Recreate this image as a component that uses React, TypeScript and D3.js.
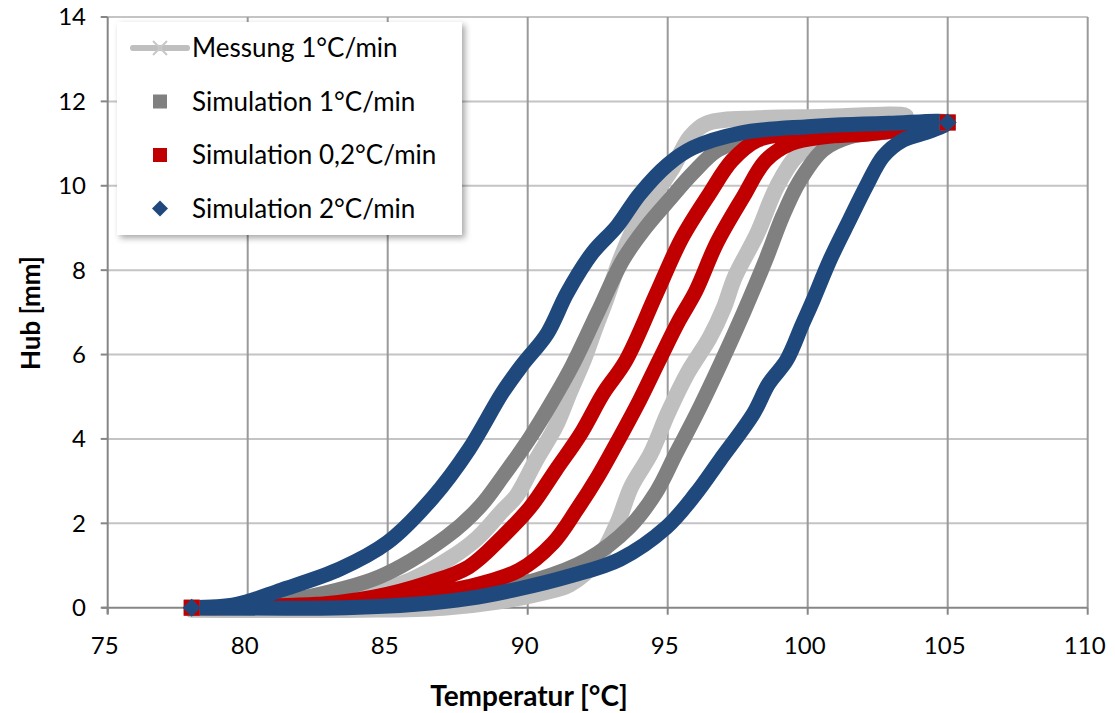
import React from "react";
import * as d3 from "d3";

type Pt = [number, number];

const xTicks = [75, 80, 85, 90, 95, 100, 105, 110];
const yTicks = [0, 2, 4, 6, 8, 10, 12, 14];

// Messung 1°C/min (measured), upper-left branch and lower-right branch
const messungUp: Pt[] = [
  [78, 0], [82, 0.05], [84, 0.3], [85.8, 0.65], [87.3, 1.2], [88.2, 1.65], [89.1, 2.3],
  [89.6, 2.65], [90.3, 3.5], [91.0, 4.3], [91.5, 5.1], [92.0, 5.87], [92.4, 6.6], [92.8, 7.3],
  [93.3, 8.24], [93.8, 9.0], [94.4, 9.66], [95.2, 10.45], [95.8, 11.16], [96.4, 11.48],
  [98.2, 11.6], [100.5, 11.63], [103.5, 11.65],
];
const messungDown: Pt[] = [
  [78, -0.05], [84, -0.05], [87, 0.0], [89, 0.15], [90.5, 0.35], [91.5, 0.55], [92.5, 1.13],
  [93.2, 2.0], [93.7, 2.87], [94.4, 3.66], [95.0, 4.6], [95.7, 5.55], [96.5, 6.4], [97.0, 7.1],
  [97.4, 7.84], [98.2, 8.87], [98.9, 9.98], [99.6, 10.7], [100.5, 11.08], [101.75, 11.24],
  [103.5, 11.3],
];

// Simulation 1°C/min
const sim1Up: Pt[] = [
  [78, 0], [80, 0.02], [81.6, 0.18], [84.7, 0.73], [87.1, 1.68], [88.3, 2.4], [89.1, 3.1],
  [90.1, 4.05], [90.9, 4.92], [91.6, 5.75], [92.5, 7.0], [93.4, 8.24], [94.2, 9.0],
  [95.1, 9.7], [95.9, 10.3], [96.8, 10.85], [98.2, 11.16], [100.55, 11.28], [105, 11.5],
];
const sim1Down: Pt[] = [
  [78, 0], [84, 0.05], [86, 0.15], [87.9, 0.34], [90.3, 0.66], [92.1, 1.13], [93.65, 1.92],
  [94.6, 2.75], [95.3, 3.66], [96.0, 4.55], [96.9, 5.8], [97.7, 6.98], [98.5, 8.24],
  [99.1, 9.27], [99.7, 10.1], [100.55, 10.85], [101.5, 11.16], [102.9, 11.28], [105, 11.5],
];

// Simulation 0,2°C/min
const sim02Up: Pt[] = [
  [78, 0], [82, 0.05], [84.5, 0.25], [86.5, 0.6], [87.9, 0.97], [89.1, 1.68], [90.1, 2.39],
  [91.0, 3.26], [91.9, 4.13], [92.7, 5.08], [93.5, 5.85], [94.6, 7.45], [95.5, 8.75],
  [96.5, 9.82], [97.3, 10.6], [98.2, 11.08], [99.4, 11.24], [101.75, 11.32], [105, 11.5],
];
const sim02Down: Pt[] = [
  [78, 0], [83, 0.1], [86, 0.3], [87.9, 0.5], [89.7, 0.89], [90.9, 1.53], [91.75, 2.32],
  [92.5, 3.1], [93.3, 4.05], [94.0, 4.92], [94.7, 5.87], [95.4, 6.8], [96.0, 7.5],
  [96.75, 8.64], [97.7, 9.74], [98.5, 10.6], [99.4, 11.0], [100.6, 11.16], [102.3, 11.24],
  [105, 11.5],
];

// Simulation 2°C/min
const sim2Up: Pt[] = [
  [78, 0], [79.6, 0.08], [81.2, 0.42], [83.3, 0.92], [85, 1.55], [86.6, 2.6], [87.9, 3.75],
  [89.1, 5.1], [89.8, 5.75], [90.7, 6.5], [91.4, 7.45], [92.3, 8.4], [93.2, 9.05],
  [94.0, 9.8], [95.0, 10.5], [95.9, 10.9], [97.6, 11.25], [100, 11.4], [102.9, 11.48],
  [105, 11.5],
];
const sim2Down: Pt[] = [
  [78, 0], [83.5, 0.0], [86, 0.08], [87.9, 0.22], [89.7, 0.45], [91.5, 0.75], [93.3, 1.15],
  [94.96, 1.91], [96.0, 2.7], [96.87, 3.5], [98.06, 4.6], [98.6, 5.3], [99.25, 5.87],
  [99.8, 6.7], [100.2, 7.3], [100.8, 8.25], [101.5, 9.2], [102.1, 10.0], [102.7, 10.7],
  [103.4, 11.08], [104.4, 11.3], [105, 11.5],
];

const seriesNames = ["Messung 1°C/min", "Simulation 1°C/min", "Simulation 0,2°C/min", "Simulation 2°C/min"];
const seriesColors = ["#bfbfbf", "#808080", "#c00000", "#1f497d"];

const FONT = "Lato, 'Open Sans', sans-serif";

export default function App() {
  const x = d3.scaleLinear().domain([75, 110]).range([107.7, 1087.7]);
  const y = d3.scaleLinear().domain([0, 14]).range([607.7, 17]);

  const line = d3
    .line<Pt>()
    .x((d) => x(d[0]))
    .y((d) => y(d[1]))
    .curve(d3.curveCatmullRom.alpha(0.5));

  const loops = [
    [messungUp, messungDown],
    [sim1Up, sim1Down],
    [sim02Up, sim02Down],
    [sim2Up, sim2Down],
  ];

  const x0 = x(75), x1 = x(110), y0 = y(0), y1 = y(14);

  return (
    <svg width={1115} height={713} style={{ position: "absolute", left: 0, top: 0 }} fontFamily={FONT}>
      <defs>
        <filter id="shadow" x="-10%" y="-10%" width="130%" height="130%">
          <feDropShadow dx="3" dy="3" stdDeviation="3" floodColor="#000" floodOpacity="0.35" />
        </filter>
      </defs>
      <rect width={1115} height={713} fill="#fff" />

      {/* grid */}
      {yTicks.filter((t) => t > 0).map((t) => (
        <line key={"gy" + t} x1={x0} x2={x1} y1={y(t)} y2={y(t)} stroke="#c4c4c4" strokeWidth={2} />
      ))}
      {xTicks.filter((t) => t > 75).map((t) => (
        <line key={"gx" + t} x1={x(t)} x2={x(t)} y1={y1} y2={y0} stroke="#9a9a9a" strokeWidth={2} />
      ))}

      {/* axes */}
      <line x1={x0} x2={x0} y1={y1} y2={y0 + 6} stroke="#868686" strokeWidth={2} />
      <line x1={x0 - 6} x2={x1} y1={y0} y2={y0} stroke="#868686" strokeWidth={2} />
      {yTicks.map((t) => (
        <g key={"ty" + t}>
          <line x1={x0 - 7} x2={x0} y1={y(t)} y2={y(t)} stroke="#868686" strokeWidth={2} />
          <text x={86} y={y(t)} dy="0.35em" textAnchor="end" fontSize={24} fill="#000">{t}</text>
        </g>
      ))}
      {xTicks.map((t) => (
        <g key={"tx" + t}>
          <line x1={x(t)} x2={x(t)} y1={y0} y2={y0 + 7} stroke="#868686" strokeWidth={2} />
          <text x={x(t) - 3} y={654} textAnchor="middle" fontSize={24} fill="#000">{t}</text>
        </g>
      ))}

      {/* series */}
      {loops.map(([up, down], i) => {
        const pts = [...up, ...down.slice(0, -1).reverse()];
        return (
          <path key={"s" + i} d={line(pts) || ""} fill="none" stroke={seriesColors[i]}
            strokeWidth={i === 0 ? 16 : 15} strokeLinejoin="round" strokeLinecap="round" />
        );
      })}
      {/* end markers */}
      {[sim1Up, sim02Up].map((s, i) =>
        [s[0], s[s.length - 1]].map((p, j) => (
          <rect key={"m" + i + j} x={x(p[0]) - 8} y={y(p[1]) - 8} width={16} height={16} fill={seriesColors[i + 1]} />
        ))
      )}
      {[sim2Up[0], sim2Up[sim2Up.length - 1]].map((p, j) => (
        <path key={"d" + j} d={`M${x(p[0])},${y(p[1]) - 9}l9,9l-9,9l-9,-9z`} fill={seriesColors[3]} />
      ))}

      {/* legend */}
      <rect x={117} y={22} width={345} height={213} fill="#fff" filter="url(#shadow)" />
      {seriesNames.map((name, i) => {
        const cy = 48 + i * 53.5;
        return (
          <g key={"l" + i}>
            {i === 0 && (
              <g>
                <line x1={133} x2={187} y1={cy} y2={cy} stroke={seriesColors[0]} strokeWidth={6} strokeLinecap="round" />
                <path d={`M${160 - 7},${cy - 7}L${160 + 7},${cy + 7}M${160 - 7},${cy + 7}L${160 + 7},${cy - 7}`} stroke="#c8c8c8" strokeWidth={2} />
              </g>
            )}
            {(i === 1 || i === 2) && <rect x={153} y={cy - 7} width={14} height={14} fill={seriesColors[i]} />}
            {i === 3 && <path d={`M160,${cy - 8}l8,8l-8,8l-8,-8z`} fill={seriesColors[3]} />}
            <text x={192} y={cy} dy="0.35em" fontSize={26} fill="#000">{name}</text>
          </g>
        );
      })}

      {/* axis titles */}
      <text x={529} y={706} textAnchor="middle" fontSize={28} fontWeight="bold">Temperatur [°C]</text>
      <text transform="translate(40,313) rotate(-90)" textAnchor="middle" fontSize={26} fontWeight="bold">Hub [mm]</text>
    </svg>
  );
}
